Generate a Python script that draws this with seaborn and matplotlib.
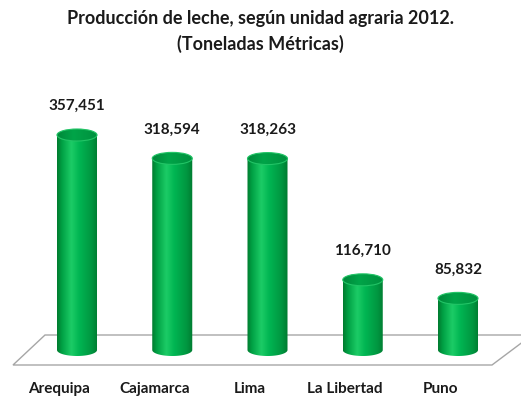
import numpy as np
import matplotlib
matplotlib.use("Agg")
import matplotlib.pyplot as plt
import seaborn as sns
from matplotlib.patches import Polygon, Ellipse, PathPatch
from matplotlib.path import Path
from matplotlib.colors import LinearSegmentedColormap

categories = ["Arequipa", "Cajamarca", "Lima", "La Libertad", "Puno"]
values = [357451, 318594, 318263, 116710, 85832]
title_lines = ["Producción de leche, según unidad agraria 2012.", "(Toneladas Métricas)"]

sns.set_theme(style="white")
plt.rcParams['font.family'] = ['Lato', 'DejaVu Sans']

W, H = 521, 400
fig = plt.figure(figsize=(W / 100, H / 100), dpi=100)
ax = fig.add_axes([0, 0, 1, 1])
sns.barplot(x=categories, y=values, color="#00b050", width=0.42, ax=ax)

# scale: pixels -> data
spacing_px = 95.25
first_px = 77
u = max(values) / 215.0          # data units per vertical pixel
ux = 1.0 / spacing_px            # data units per horizontal pixel
base_px_from_bottom = 50
xlim = (-first_px * ux, (W - first_px) * ux)
ylim = (-base_px_from_bottom * u, (H - base_px_from_bottom) * u)

# floor (parallelogram)
floor = Polygon([(-32 * ux, 15 * u), (455 * ux, 15 * u),
                 (415 * ux, -15 * u), (-64 * ux, -15 * u)],
                closed=True, facecolor="#ffffff", edgecolor="#a6a6a6",
                linewidth=1.0, zorder=1)
ax.add_patch(floor)

body_cmap = LinearSegmentedColormap.from_list(
    "body", [(0.0, "#007a2e"), (0.12, "#00a044"), (0.35, "#1ccc66"),
             (0.55, "#00b552"), (0.85, "#009640"), (1.0, "#007a30")])
cap_cmap = LinearSegmentedColormap.from_list(
    "cap", [(0.0, "#00883a"), (0.4, "#00a448"), (1.0, "#00903e")])
grad = np.linspace(0, 1, 256).reshape(1, -1)

eh = 12 * u
for patch, v in zip(list(ax.patches), values):
    x0 = patch.get_x()
    w = patch.get_width()
    h = patch.get_height()
    cx = x0 + w / 2
    patch.set_visible(False)
    theta = np.linspace(np.pi, 2 * np.pi, 80)
    ex = cx + (w / 2) * np.cos(theta)
    ey = (eh / 2) * np.sin(theta)
    verts = [(x0, h)] + list(zip(ex, ey)) + [(x0 + w, h), (x0, h)]
    codes = [Path.MOVETO] + [Path.LINETO] * (len(verts) - 2) + [Path.CLOSEPOLY]
    body = PathPatch(Path(verts, codes), facecolor="none", edgecolor="none", zorder=3)
    ax.add_patch(body)
    im = ax.imshow(grad, extent=[x0, x0 + w, -eh / 2, h], aspect="auto",
                   cmap=body_cmap, zorder=3, interpolation="bilinear")
    im.set_clip_path(body)
    cap = Ellipse((cx, h), w, eh, facecolor="none", edgecolor="none", zorder=4)
    ax.add_patch(cap)
    im2 = ax.imshow(grad, extent=[x0, x0 + w, h - eh / 2, h + eh / 2], aspect="auto",
                    cmap=cap_cmap, zorder=4, interpolation="bilinear")
    im2.set_clip_path(cap)
    ax.add_patch(Ellipse((cx, h), w, eh, facecolor="none", edgecolor="#22c466",
                         linewidth=0.8, zorder=5))
    ax.text(cx, h + 25 * u, f"{v:,}", ha="center", va="baseline",
            fontsize=11, fontweight="bold", color="#1a1a1a", zorder=6)

for i, c in enumerate(categories):
    ax.text(i - 18 * ux, -43 * u, c, ha="center", va="baseline", fontsize=11,
            fontweight="bold", color="#1a1a1a")

fig.text(0.5, 1 - 24 / H, title_lines[0], ha="center", va="baseline",
         fontsize=13, fontweight="bold", color="#1a1a1a")
fig.text(0.5, 1 - 50 / H, title_lines[1], ha="center", va="baseline",
         fontsize=13, fontweight="bold", color="#1a1a1a")

ax.set_xlim(*xlim)
ax.set_ylim(*ylim)
ax.axis("off")
fig.savefig("out.png", dpi=100, facecolor="white")
